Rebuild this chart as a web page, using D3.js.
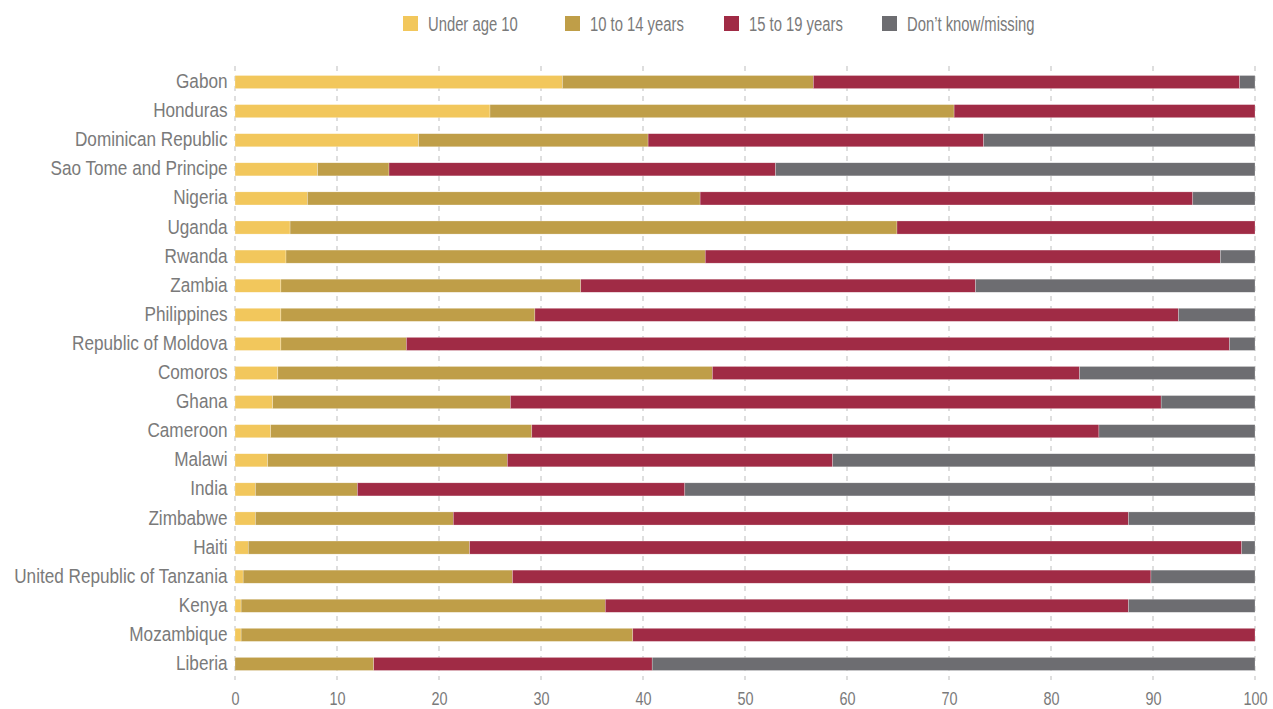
<!DOCTYPE html>
<html><head><meta charset="utf-8">
<script src="https://cdn.jsdelivr.net/npm/d3@7/dist/d3.min.js"></script>
<style>
body{margin:0;background:#fff;}
text{font-family:"Liberation Sans",Arial,sans-serif;fill:#7a7a7a;}
</style></head><body>
<svg id="chart" width="1273" height="709"></svg>
<script>
const countries = ["Gabon","Honduras","Dominican Republic","Sao Tome and Principe","Nigeria","Uganda","Rwanda","Zambia","Philippines","Republic of Moldova","Comoros","Ghana","Cameroon","Malawi","India","Zimbabwe","Haiti","United Republic of Tanzania","Kenya","Mozambique","Liberia"];
const seriesNames = ["Under age 10","10 to 14 years","15 to 19 years","Don\u2019t know/missing"];
const under10   = [32.1,25.0,18.0, 8.1, 7.1, 5.4, 5.0, 4.5, 4.5, 4.5, 4.2, 3.7, 3.5, 3.2, 2.0, 2.0, 1.3, 0.8, 0.6, 0.6, 0.0];
const age10to14 = [24.6,45.5,22.5, 7.0,38.5,59.5,41.1,29.4,24.9,12.3,42.6,23.3,25.6,23.5,10.0,19.4,21.7,26.4,35.7,38.4,13.6];
const age15to19 = [41.8,29.5,32.9,37.9,48.3,35.1,50.5,38.7,63.1,80.7,36.0,63.8,55.6,31.9,32.1,66.2,75.7,62.6,51.3,61.0,27.3];
const dontKnow  = [ 1.5, 0.0,26.6,47.0, 6.1, 0.0, 3.4,27.4, 7.5, 2.5,17.2, 9.2,15.3,41.4,55.9,12.4, 1.3,10.2,12.4, 0.0,59.1];
const xTicks = [0,10,20,30,40,50,60,70,80,90,100];
const colors = ["#F2C75C","#BF9E48","#A02B45","#6D6D71"];

const rows = countries.map((c,i)=>({country:c, v:[under10[i],age10to14[i],age15to19[i],dontKnow[i]]}));
const keys = [0,1,2,3];
const stacked = d3.stack().keys(keys).value((d,k)=>d.v[k])(rows);

const svg = d3.select("#chart");
const x = d3.scaleLinear().domain([0,100]).range([235,1255]);
const y = d3.scaleBand().domain(countries).range([67.5,678.5]).paddingInner(0.55).paddingOuter(0.275);
const FS = "19.5px";

function condense(sel, s){
  sel.each(function(){
    const t = d3.select(this);
    const ox = +(t.attr("x")||0);
    t.attr("x", ox/s).attr("transform", `scale(${s},1)`);
  });
}

// grid
svg.append("g").selectAll("line").data(xTicks).join("line")
  .attr("x1",d=>x(d)).attr("x2",d=>x(d)).attr("y1",66).attr("y2",680)
  .attr("stroke","#c8c8c8").attr("stroke-width",1.2).attr("stroke-dasharray","5,5");

// bars
svg.append("g").selectAll("g").data(stacked).join("g")
  .attr("fill",(d,i)=>colors[i])
  .selectAll("rect").data(d=>d).join("rect")
  .attr("x",d=>x(d[0])).attr("width",d=>Math.max(0,x(d[1])-x(d[0])))
  .attr("y",d=>y(d.data.country)).attr("height",y.bandwidth())
  .attr("stroke","#fff").attr("stroke-opacity",0.5).attr("stroke-width",0.5);

// y axis labels
const yAxis = d3.axisLeft(y).tickSize(0).tickPadding(7.5);
const ya = svg.append("g").attr("transform",`translate(${x(0)},-1)`).call(yAxis);
ya.select(".domain").remove();
ya.selectAll("text").style("font-size",FS).attr("fill","#7a7a7a").attr("dy","0.36em").call(condense,0.88);

// x axis
const xAxis = d3.axisBottom(x).tickValues(xTicks).tickSize(0).tickPadding(0);
const xa = svg.append("g").attr("transform","translate(0,705)").call(xAxis);
xa.select(".domain").remove();
xa.selectAll("text").style("font-size","18.5px").attr("fill","#7a7a7a").attr("y",0).attr("dy","0").call(condense,0.78);

// legend
const legendX = [403,565,724,882];
const lg = svg.append("g").selectAll("g").data(seriesNames).join("g")
  .attr("transform",(d,i)=>`translate(${legendX[i]},16)`);
lg.append("rect").attr("width",15).attr("height",15).attr("fill",(d,i)=>colors[i]);
lg.append("text").attr("x",25).attr("y",8).attr("dy","0.36em").style("font-size",FS).text(d=>d).call(condense,0.76);
</script>
</body></html>
